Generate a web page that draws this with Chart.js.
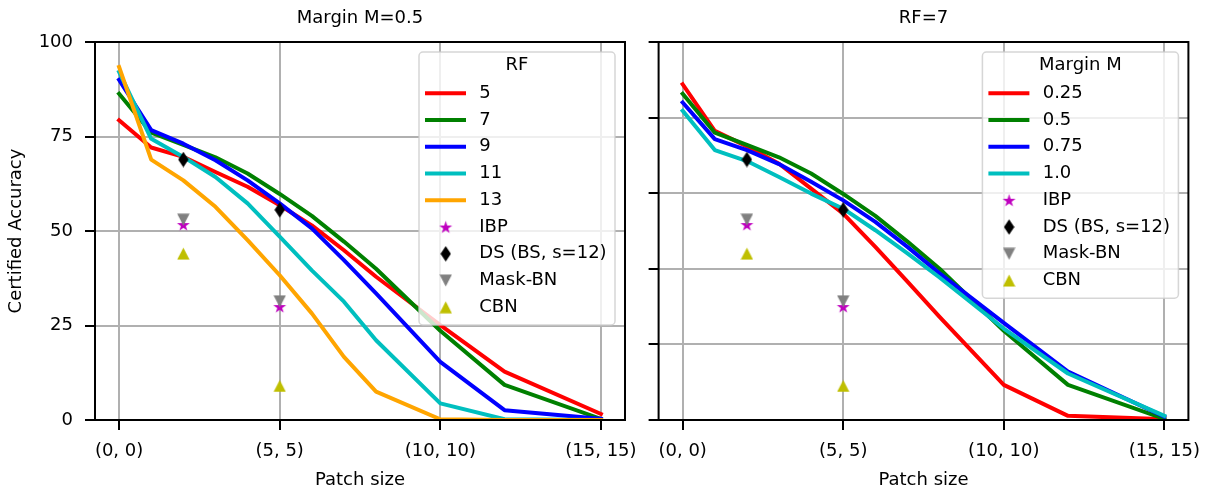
<!DOCTYPE html>
<html><head><meta charset="utf-8">
<script src="https://cdn.jsdelivr.net/npm/chart.js@4.4.0/dist/chart.umd.min.js"></script>
<style>
html,body{margin:0;padding:0;background:#fff;}
#wrap{position:relative;width:1205px;height:492px;overflow:hidden;}
#c1{position:absolute;left:0;top:0;}
#c2{position:absolute;left:640px;top:0;}
</style></head><body>
<div id="wrap"><canvas id="c1" width="640" height="492"></canvas><canvas id="c2" width="565" height="492"></canvas></div>
<script>
// ---------- data ----------
const patchSizes   = [0, 1, 2, 3, 4, 5, 6, 7, 8, 10, 12, 15];
const xTickValues  = [0, 5, 10, 15];
const xTickLabels  = ['(0, 0)', '(5, 5)', '(10, 10)', '(15, 15)'];
const leftYTicks   = [0, 25, 50, 75, 100];
const rightYTicks  = [0, 20, 40, 60, 80, 100];

const leftTitle  = 'Margin M=0.5';
const rightTitle = 'RF=7';
const xAxisTitle = 'Patch size';
const yAxisTitle = 'Certified Accuracy';
const leftLegendTitle  = 'RF';
const rightLegendTitle = 'Margin M';

const rfLabels = ['5', '7', '9', '11', '13'];
const rf5  = [79.3, 72.1, 69.6, 65.6, 61.7, 56.8, 51.5, 44.9, 37.9, 25.1, 12.8, 1.6];
const rf7  = [86.3, 76.0, 72.8, 69.5, 65.2, 59.8, 54.0, 47.2, 40.0, 23.6, 9.3, 0.3];
const rf9  = [90.0, 76.7, 73.1, 68.7, 63.4, 57.3, 50.7, 42.3, 33.5, 15.4, 2.6, 0.3];
const rf11 = [92.1, 74.4, 69.6, 64.3, 57.3, 48.5, 39.6, 31.3, 21.1, 4.4, 0.2, 0.0];
const rf13 = [93.4, 68.9, 63.4, 56.4, 47.6, 38.3, 28.2, 16.7, 7.5, 0.2, 0.0, 0.0];

const marginLabels = ['0.25', '0.5', '0.75', '1.0'];
const m025 = [88.8, 76.5, 72.4, 67.8, 61.2, 54.6, 45.8, 36.6, 27.3, 9.3, 1.1, 0.2];
const m050 = rf7;
const m075 = [84.0, 74.3, 71.4, 67.7, 63.0, 58.1, 52.4, 45.8, 38.8, 25.7, 12.8, 0.9];
const m100 = [81.8, 71.4, 68.5, 64.3, 59.9, 55.9, 50.2, 44.1, 37.7, 24.2, 12.3, 1.1];

const baselineLabels = ['IBP', 'DS (BS, s=12)', 'Mask-BN', 'CBN'];
const baselineX = [2, 5];
const ibp    = [51.7, 30.0];
const dsBS   = [68.9, 55.6];
const maskBN = [53.0, 31.4];
const cbn    = [44.0, 9.0];

// ---------- styles ----------
const FONT = 'DejaVu Sans';
const lineColorsRF = ['#ff0000', '#008000', '#0000ff', '#00bfbf', '#ffa500'];
const lineColorsM  = ['#ff0000', '#008000', '#0000ff', '#00bfbf'];

function makeMarker(kind, color) {
  const c = document.createElement('canvas');
  let w = 13, h = 13;
  if (kind === 'star') { w = 15; h = 15; }
  if (kind === 'diamond') { w = 11; h = 16; }
  c.width = w; c.height = h;
  const g = c.getContext('2d');
  g.fillStyle = color;
  g.beginPath();
  if (kind === 'star') {
    const R = 6.8, r = R * 0.381966, cx = w / 2, cy = h / 2 + 0.6;
    for (let i = 0; i < 10; i++) {
      const a = -Math.PI / 2 + i * Math.PI / 5;
      const rr = i % 2 === 0 ? R : r;
      const px = cx + rr * Math.cos(a), py = cy + rr * Math.sin(a);
      if (i === 0) g.moveTo(px, py); else g.lineTo(px, py);
    }
  } else if (kind === 'diamond') {
    g.moveTo(w / 2, 0.3); g.lineTo(w - 0.3, h / 2); g.lineTo(w / 2, h - 0.3); g.lineTo(0.3, h / 2);
  } else if (kind === 'down') {
    g.moveTo(0.3, 0.5); g.lineTo(w - 0.3, 0.5); g.lineTo(w / 2, h - 0.5);
  } else {
    g.moveTo(w / 2, 0.5); g.lineTo(w - 0.3, h - 0.5); g.lineTo(0.3, h - 0.5);
  }
  g.closePath();
  g.fill();
  return c;
}
const markerImgs = [
  makeMarker('star', '#bf00bf'),
  makeMarker('diamond', '#000000'),
  makeMarker('down', '#808080'),
  makeMarker('up', '#bfbf00')
];

function pts(xs, ys) { return xs.map((x, i) => ({ x: x, y: ys[i] })); }

function buildDatasets(labels, series, colors) {
  const ds = [];
  labels.forEach((lab, i) => {
    ds.push({
      type: 'line', label: lab, data: pts(patchSizes, series[i]),
      borderColor: colors[i], backgroundColor: colors[i], borderWidth: 4,
      pointRadius: 0, tension: 0, fill: false,
      borderJoinStyle: 'round', borderCapStyle: 'square'
    });
  });
  const bSeries = [ibp, dsBS, maskBN, cbn];
  baselineLabels.forEach((lab, i) => {
    ds.push({
      type: 'line', label: lab, data: pts(baselineX, bSeries[i]),
      showLine: false, pointStyle: markerImgs[i], pointRadius: 7,
      borderColor: 'rgba(0,0,0,0)', backgroundColor: 'rgba(0,0,0,0)', isMarker: true
    });
  });
  const n = ds.length;
  ds.forEach((d, i) => { d.order = n - i; });
  return ds;
}

// frame (all four spines) drawn above the data
const framePlugin = {
  id: 'frame',
  afterDatasetsDraw(chart) {
    const a = chart.chartArea, ctx = chart.ctx;
    ctx.save();
    ctx.strokeStyle = '#000';
    ctx.lineWidth = 2;
    ctx.strokeRect(a.left, a.top, a.right - a.left, a.bottom - a.top);
    ctx.restore();
  }
};

// matplotlib-like legend box in the upper right of the plot area
const boxLegendPlugin = {
  id: 'boxLegend',
  afterDraw(chart, args, opts) {
    const ctx = chart.ctx, a = chart.chartArea;
    const dsets = chart.data.datasets;
    const W = opts.width, rowH = opts.rowHeight;
    const right = a.right - opts.pad, top = a.top + opts.pad;
    const left = right - W;
    const H = opts.titleGap + rowH * (dsets.length - 1) + opts.bottomGap;
    ctx.save();
    const r = 4;
    ctx.beginPath();
    ctx.moveTo(left + r, top);
    ctx.arcTo(right, top, right, top + H, r);
    ctx.arcTo(right, top + H, left, top + H, r);
    ctx.arcTo(left, top + H, left, top, r);
    ctx.arcTo(left, top, right, top, r);
    ctx.closePath();
    ctx.fillStyle = 'rgba(255,255,255,0.8)';
    ctx.fill();
    ctx.strokeStyle = 'rgba(204,204,204,0.8)';
    ctx.lineWidth = 1.5;
    ctx.stroke();
    ctx.fillStyle = '#000';
    ctx.font = '18px "' + FONT + '"';
    ctx.textBaseline = 'middle';
    ctx.textAlign = 'center';
    ctx.fillText(opts.title, (left + right) / 2, top + opts.titleY);
    ctx.textAlign = 'left';
    dsets.forEach((d, i) => {
      const y = top + opts.titleGap + i * rowH;
      if (d.isMarker) {
        const img = d.pointStyle;
        ctx.drawImage(img, left + opts.markerX - img.width / 2, y - img.height / 2);
      } else {
        ctx.beginPath();
        ctx.strokeStyle = d.borderColor;
        ctx.lineWidth = 4;
        ctx.lineCap = 'butt';
        ctx.moveTo(left + opts.handleX0, y);
        ctx.lineTo(left + opts.handleX1, y);
        ctx.stroke();
      }
      ctx.fillStyle = '#000';
      ctx.fillText(d.label, left + opts.textX, y);
    });
    ctx.restore();
  }
};

function makeOptions(cfg) {
  return {
    responsive: false,
    animation: false,
    layout: { padding: { left: 0, right: cfg.padRight, top: 0, bottom: 0 } },
    plugins: {
      legend: { display: false },
      tooltip: { enabled: false },
      title: {
        display: true, text: cfg.title, fullSize: false, color: '#000',
        font: { family: FONT, size: 18, weight: 'normal' },
        padding: { top: 7.4, bottom: 13 }
      },
      boxLegend: {
        title: cfg.legendTitle, width: 196, pad: 10, rowHeight: 26.75,
        titleY: 13.7, titleGap: 41.3, bottomGap: 17.7,
        handleX0: 6, handleX1: 47, markerX: 26.7, textX: 60.3
      }
    },
    scales: {
      x: {
        type: 'linear', min: -0.75, max: 15.75,
        afterBuildTicks: s => { s.ticks = xTickValues.map(v => ({ value: v })); },
        afterFit: s => { s.height = 72; s.paddingLeft = 0; s.paddingRight = 0; },
        ticks: {
          autoSkip: false, maxRotation: 0, minRotation: 0, color: '#000', padding: 11,
          font: { family: FONT, size: 18 },
          callback: (v, i) => xTickLabels[xTickValues.indexOf(v)]
        },
        grid: { color: '#b0b0b0', lineWidth: 2, drawTicks: true, tickLength: 10, tickColor: '#000', tickWidth: 2 },
        border: { display: false },
        title: { display: true, text: xAxisTitle, color: '#000', font: { family: FONT, size: 18 }, padding: { top: 0, bottom: 1.2 } }
      },
      y: {
        type: 'linear', min: 0, max: 100,
        afterBuildTicks: s => { s.ticks = cfg.yTicks.map(v => ({ value: v })); },
        afterFit: s => { s.width = cfg.yWidth; s.paddingTop = 0; s.paddingBottom = 0; },
        ticks: {
          display: cfg.yLabels, color: '#000', padding: 12,
          font: { family: FONT, size: 18 }
        },
        grid: { color: '#b0b0b0', lineWidth: 2, drawTicks: true, tickLength: 10, tickColor: '#000', tickWidth: 2 },
        border: { display: false },
        title: { display: cfg.yLabels, text: yAxisTitle, color: '#000', font: { family: FONT, size: 18 }, padding: { top: 6, bottom: 0 } }
      }
    }
  };
}

new Chart(document.getElementById('c1'), {
  type: 'line',
  data: { datasets: buildDatasets(rfLabels, [rf5, rf7, rf9, rf11, rf13], lineColorsRF) },
  options: makeOptions({ title: leftTitle, legendTitle: leftLegendTitle, yTicks: leftYTicks, yLabels: true, yWidth: 95, padRight: 15 }),
  plugins: [framePlugin, boxLegendPlugin]
});

new Chart(document.getElementById('c2'), {
  type: 'line',
  data: { datasets: buildDatasets(marginLabels, [m025, m050, m075, m100], lineColorsM) },
  options: makeOptions({ title: rightTitle, legendTitle: rightLegendTitle, yTicks: rightYTicks, yLabels: false, yWidth: 18.6, padRight: 16.6 }),
  plugins: [framePlugin, boxLegendPlugin]
});
</script>
</body></html>
